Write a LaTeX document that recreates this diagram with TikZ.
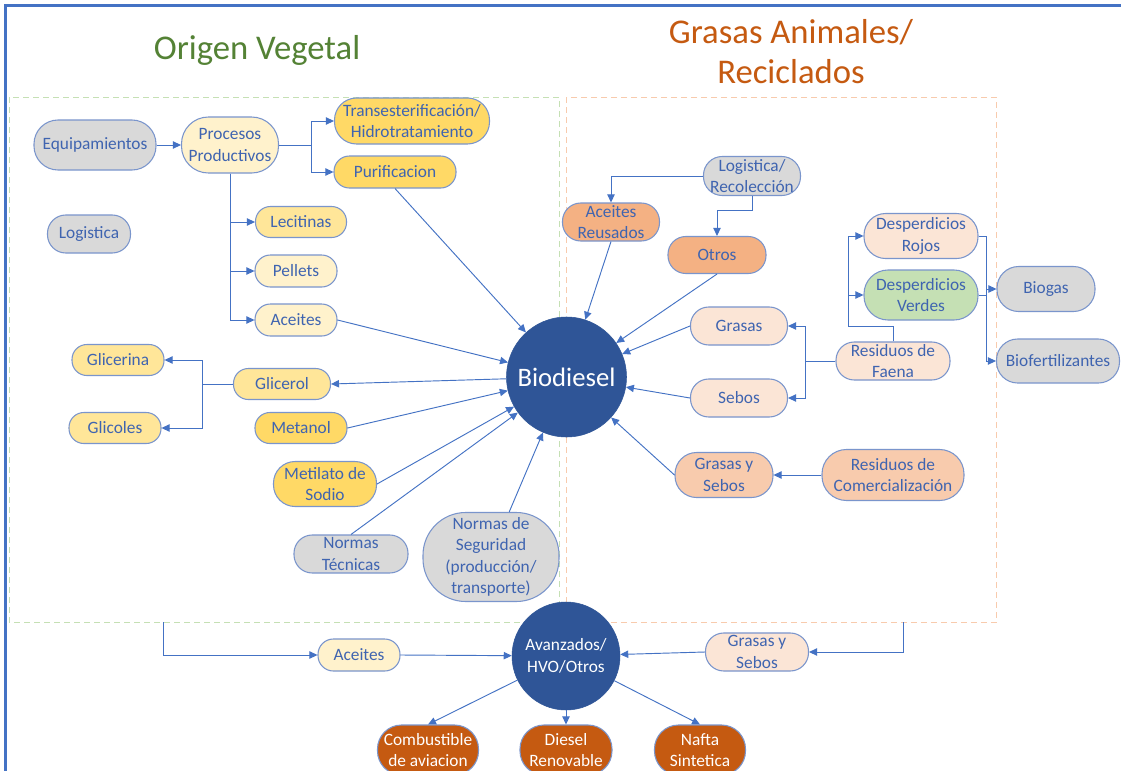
\documentclass[tikz,border=0pt]{standalone}
\usepackage{fontspec}
\setmainfont{Carlito}
\usetikzlibrary{arrows.meta}
\definecolor{framecol}{HTML}{4472C4}
\definecolor{linecol}{HTML}{4472C4}
\definecolor{bordercol}{HTML}{7A95CC}
\definecolor{txtblue}{HTML}{3F64B0}
\definecolor{fgray}{HTML}{D9D9D9}
\definecolor{flyellow}{HTML}{FFF2CC}
\definecolor{fmgold}{HTML}{FFE699}
\definecolor{fgold}{HTML}{FFD966}
\definecolor{forange}{HTML}{F4B183}
\definecolor{fpeach}{HTML}{FBE5D6}
\definecolor{fsalmon}{HTML}{F8CBAD}
\definecolor{fgreen}{HTML}{C5E0B4}
\definecolor{fdarkblue}{HTML}{2F5597}
\definecolor{fbrown}{HTML}{C55A11}
\definecolor{titlegreen}{HTML}{548235}
\definecolor{titleorange}{HTML}{C55A11}
\definecolor{dashgreen}{HTML}{C5E0B4}
\definecolor{dashorange}{HTML}{F8CBAD}
\tikzset{
  base/.style={draw=bordercol, line width=0.8pt, text=txtblue, align=center,
    inner sep=0pt, font=\fontsize{13}{16}\selectfont},
  pill/.style n args={3}{base, fill=#1, minimum width=#2*0.75pt,
    minimum height=#3*0.75pt, rounded corners=#3*0.36pt},
  hub/.style n args={2}{circle, fill=fdarkblue, draw=fdarkblue, text=white,
    align=center, inner sep=0pt, minimum size=#1*1.5pt, font=#2},
  conn/.style={draw=linecol, line width=0.7pt},
  arr/.style={conn, -{Triangle[length=6pt,width=5.5pt]}},
  title/.style={anchor=base, font=\fontsize{26}{31}\selectfont},
  zone/.style={line width=0.75pt, dash pattern=on 4.5pt off 3pt},
}
\begin{document}
\begin{tikzpicture}[x=0.75pt, y=-0.75pt]
\useasboundingbox (0,0) rectangle (1121,771);
\fill[white] (0,0) rectangle (1121,771);
% outer frame
\draw[framecol, line width=1.6pt] (5.5,5.5) rectangle (1140,790);
% zones
\draw[zone, dashgreen] (9,97) rectangle (559,622);
\draw[zone, dashorange] (566,97) rectangle (996.5,622);
% titles
\node[title, text=titlegreen] (tveg) at (257,59.5) {Origen Vegetal};
\node[title, text=titleorange] (tgra1) at (791,43) {Grasas Animales/};
\node[title, text=titleorange] (tgra2) at (791,83) {Reciclados};

% left side nodes
\node[pill={fgray}{122}{50}] (equip) at (95,145) {Equipamientos};
\node[pill={flyellow}{97}{56}] (proc) at (230,145) {Procesos\\Productivos};
\node[pill={fgold}{155}{46}] (trans) at (412,121) {Transesterificación/\\Hidrotratamiento};
\node[pill={fgold}{122}{32}] (purif) at (395,172) {Purificacion};
\node[pill={fmgold}{91}{31}] (lecit) at (301,222) {Lecitinas};
\node[pill={fgray}{83}{38}] (logl) at (89,234) {Logistica};
\node[pill={flyellow}{82}{32}] (pellets) at (296,271) {Pellets};
\node[pill={flyellow}{82}{32}] (aceites) at (296,320) {Aceites};
\node[pill={fmgold}{92}{31}] (glicerina) at (118,360) {Glicerina};
\node[pill={fmgold}{97}{31}] (glicerol) at (282,384) {Glicerol};
\node[pill={fmgold}{92}{31}] (glicoles) at (115,428) {Glicoles};
\node[pill={fgold}{92}{31}] (metanol) at (301,428) {Metanol};
\node[pill={fgold}{103}{45}] (metilato) at (325,484) {Metilato de\\Sodio};
\node[pill={fgray}{114}{38}] (ntec) at (351,554) {Normas\\Técnicas};
\node[pill={fgray}{136}{89}] (nseg) at (491,557) {Normas de\\Seguridad\\(producción/\\transporte)};

% right side nodes
\node[pill={fgray}{97}{39}] (logr) at (752,176) {Logistica/\\Recolección};
\node[pill={forange}{97}{38}] (areus) at (611,222) {Aceites\\Reusados};
\node[pill={forange}{98}{37}] (otros) at (717,255) {Otros};
\node[pill={fpeach}{114}{45}] (drojos) at (921,236) {Desperdicios\\Rojos};
\node[pill={fgreen}{114}{50}] (dverdes) at (921,295) {Desperdicios\\Verdes};
\node[pill={fgray}{98}{45}] (biogas) at (1046,289) {Biogas};
\node[pill={fgray}{123}{44}] (biofert) at (1058,361) {Biofertilizantes};
\node[pill={fpeach}{97}{38}] (grasas) at (739,326) {Grasas};
\node[pill={fpeach}{114}{38}] (faena) at (893,361) {Residuos de\\Faena};
\node[pill={fpeach}{97}{38}] (sebos) at (739,398) {Sebos};
\node[pill={fsalmon}{98}{45}] (gys) at (724,475) {Grasas y\\Sebos};
\node[pill={fsalmon}{142}{51}] (rcom) at (893,475) {Residuos de\\Comercialización};

% bottom nodes
\node[pill={flyellow}{82}{32}] (aceb) at (359,655) {Aceites};
\node[pill={fpeach}{103}{38}] (gysb) at (757,652) {Grasas y\\Sebos};
\node[pill={fbrown}{101}{50}, text=white] (comb) at (428,750) {Combustible\\de aviacion};
\node[pill={fbrown}{92}{50}, text=white] (diesel) at (566,750) {Diesel\\Renovable};
\node[pill={fbrown}{91}{50}, text=white] (nafta) at (700,750) {Nafta\\Sintetica};

% hubs
\node[hub={60}{\fontsize{20}{24}\selectfont}] (bio) at (566.5,377) {Biodiesel};
\node[hub={54}{\fontsize{13}{16}\selectfont}] (avz) at (566,656) {Avanzados/\\HVO/Otros};

% junction points
\coordinate (j1) at (311,145);
\coordinate (j2) at (202,384);
\coordinate (j3) at (805,361);
\coordinate (j4) at (848,326);
\coordinate (k1) at (986,289);
\coordinate (k2) at (986,361);
\coordinate (g1) at (163,622);
\coordinate (o1) at (903,622);

% left side connectors
\draw[arr] (equip.east) -- (proc.west);
\draw[conn] (proc.east) -- (j1);
\draw[arr] (j1) |- (trans.west);
\draw[arr] (j1) |- (purif.west);
\draw[arr] (proc.south) |- (lecit.west);
\draw[arr] (proc.south) |- (pellets.west);
\draw[arr] (proc.south) |- (aceites.west);
\draw[arr] (purif.south) -- (bio);
\draw[arr] (aceites.east) -- (bio);
\draw[arr] (bio) -- (glicerol.east);
\draw[conn] (glicerol.west) -- (j2);
\draw[arr] (j2) |- (glicerina.east);
\draw[arr] (j2) |- (glicoles.east);
\draw[arr] (metanol.east) -- (bio);
\draw[arr] (metilato.east) -- (bio);
\draw[arr] (ntec.north) -- (bio);
\draw[arr] (nseg.68) -- (bio);

% right side connectors
\draw[arr] (logr.west) -| (areus.north);
\draw[arr] (logr.south) -- ++(0,14) -| (otros.north);
\draw[arr] (areus.south) -- (bio);
\draw[arr] (otros.south) -- (bio);
\draw[arr] (grasas.west) -- (bio);
\draw[arr] (sebos.west) -- (bio);
\draw[arr] (gys.west) -- (bio);
\draw[arr] (rcom.west) -- (gys.east);
\draw[conn] (faena.west) -- (j3);
\draw[arr] (j3) |- (grasas.east);
\draw[arr] (j3) |- (sebos.east);
\draw[conn] (faena.north) |- (j4);
\draw[arr] (j4) |- (drojos.west);
\draw[arr] (j4) |- (dverdes.west);
\draw[conn] (drojos.east) -| (k2);
\draw[conn] (dverdes.east) -- (dverdes.east -| k1);
\draw[arr] (k1) -- (biogas.west);
\draw[arr] (k2) -- (biofert.west);

% bottom connectors
\draw[arr] (g1) |- (aceb.west);
\draw[arr] (aceb.east) -- (avz);
\draw[arr] (o1) |- (gysb.east);
\draw[arr] (gysb.west) -- (avz);
\draw[arr] (avz) -- (comb.north);
\draw[arr] (avz) -- (diesel.north);
\draw[arr] (avz) -- (nafta.north);
\end{tikzpicture}
\end{document}
